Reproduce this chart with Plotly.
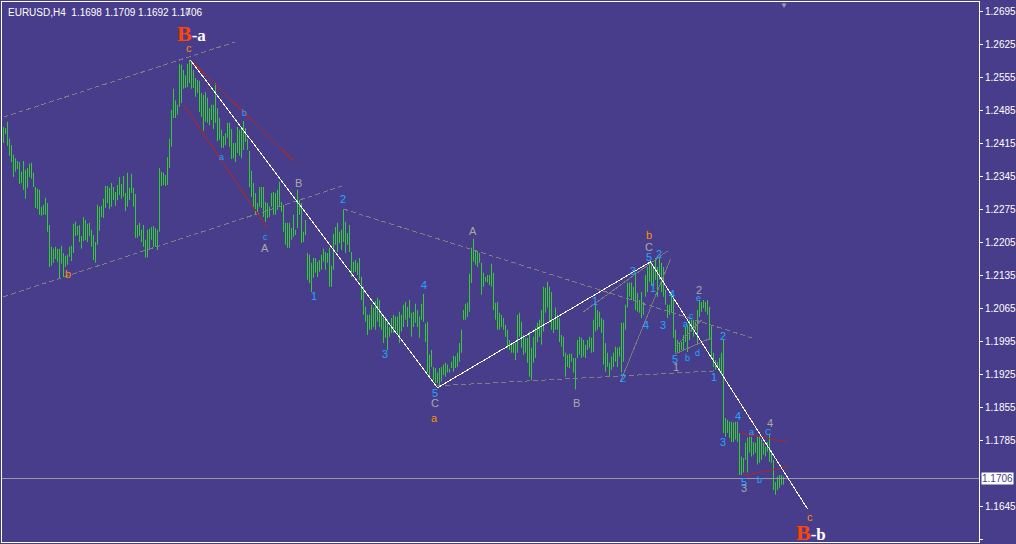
import plotly.graph_objects as go

# EURUSD H4 bars, oldest first (one value per bar)
high = [
    1.2451, 1.2449, 1.2462, 1.2426, 1.2413, 1.2392, 1.2385, 1.2379, 1.2377, 1.2356,
    1.2379, 1.2360, 1.2364, 1.2373, 1.2375, 1.2354, 1.2324, 1.2320, 1.2318, 1.2282,
    1.2286, 1.2301, 1.2290, 1.2243, 1.2197, 1.2193, 1.2197, 1.2193, 1.2193, 1.2199,
    1.2184, 1.2178, 1.2180, 1.2197, 1.2199, 1.2246, 1.2250, 1.2241, 1.2243, 1.2220,
    1.2260, 1.2254, 1.2246, 1.2248, 1.2233, 1.2222, 1.2207, 1.2286, 1.2282, 1.2284,
    1.2299, 1.2326, 1.2326, 1.2322, 1.2332, 1.2324, 1.2313, 1.2328, 1.2345, 1.2330,
    1.2347, 1.2311, 1.2354, 1.2322, 1.2352, 1.2322, 1.2309, 1.2243, 1.2248, 1.2233,
    1.2243, 1.2212, 1.2233, 1.2235, 1.2239, 1.2241, 1.2237, 1.2233, 1.2364, 1.2356,
    1.2354, 1.2349, 1.2387, 1.2426, 1.2487, 1.2532, 1.2508, 1.2498, 1.2585, 1.2583,
    1.2572, 1.2561, 1.2585, 1.2593, 1.2589, 1.2572, 1.2555, 1.2551, 1.2549, 1.2523,
    1.2519, 1.2525, 1.2513, 1.2491, 1.2498, 1.2498, 1.2544, 1.2491, 1.2470, 1.2445,
    1.2432, 1.2438, 1.2460, 1.2460, 1.2447, 1.2417, 1.2417, 1.2451, 1.2445, 1.2449,
    1.2464, 1.2449, 1.2426, 1.2400, 1.2358, 1.2332, 1.2311, 1.2290, 1.2324, 1.2324,
    1.2324, 1.2292, 1.2290, 1.2282, 1.2311, 1.2313, 1.2311, 1.2318, 1.2335, 1.2292,
    1.2286, 1.2248, 1.2248, 1.2248, 1.2237, 1.2265, 1.2233, 1.2318, 1.2296, 1.2290,
    1.2229, 1.2254, 1.2184, 1.2180, 1.2163, 1.2173, 1.2173, 1.2165, 1.2169, 1.2180,
    1.2193, 1.2186, 1.2184, 1.2195, 1.2157, 1.2224, 1.2239, 1.2248, 1.2229, 1.2233,
    1.2277, 1.2250, 1.2226, 1.2243, 1.2186, 1.2165, 1.2169, 1.2163, 1.2173, 1.2133,
    1.2112, 1.2070, 1.2053, 1.2053, 1.2074, 1.2068, 1.2082, 1.2089, 1.2084, 1.2057,
    1.2053, 1.2049, 1.2042, 1.2027, 1.2046, 1.2053, 1.2049, 1.2049, 1.2059, 1.2053,
    1.2074, 1.2080, 1.2070, 1.2084, 1.2057, 1.2059, 1.2076, 1.2063, 1.2049, 1.2076,
    1.2097, 1.2034, 1.2038, 1.1968, 1.1978, 1.1942, 1.1940, 1.1930, 1.1940, 1.1942,
    1.1947, 1.1951, 1.1947, 1.1938, 1.1953, 1.1966, 1.1964, 1.1972, 1.1993, 1.2021,
    1.2063, 1.2076, 1.2078, 1.2140, 1.2195, 1.2214, 1.2190, 1.2186, 1.2184, 1.2163,
    1.2142, 1.2133, 1.2137, 1.2137, 1.2161, 1.2142, 1.2078, 1.2080, 1.2057, 1.2053,
    1.2046, 1.2031, 1.2021, 1.1999, 1.1993, 1.1995, 1.1993, 1.2053, 1.2057, 1.2038,
    1.2010, 1.2004, 1.2004, 1.2017, 1.1983, 1.2006, 1.2025, 1.2036, 1.2042, 1.2063,
    1.2112, 1.2110, 1.2123, 1.2112, 1.2101, 1.2042, 1.2068, 1.2053, 1.2046, 1.2010,
    1.2006, 1.1972, 1.1968, 1.1970, 1.1970, 1.1961, 1.1961, 1.1999, 1.2006, 1.2004,
    1.1999, 1.1989, 1.1999, 1.2006, 1.2004, 1.2042, 1.2080, 1.2063, 1.2059, 1.2046,
    1.2042, 1.1993, 1.1972, 1.1951, 1.1964, 1.1972, 1.1985, 1.1983, 1.1985, 1.2036,
    1.2036, 1.2074, 1.2121, 1.2121, 1.2121, 1.2112, 1.2142, 1.2099, 1.2084, 1.2101,
    1.2080, 1.2137, 1.2154, 1.2163, 1.2165, 1.2152, 1.2173, 1.2154, 1.2173, 1.2163,
    1.2154, 1.2106, 1.2074, 1.2074, 1.2099, 1.2095, 1.2021, 1.1999, 1.1995, 1.1995,
    1.2010, 1.2027, 1.2031, 1.2042, 1.2042, 1.2042, 1.2038, 1.2063, 1.2084, 1.2080,
    1.2084, 1.2080, 1.2084, 1.2070, 1.2031, 1.1972, 1.1957, 1.1953, 1.1961, 1.1972,
    1.1999, 1.1834, 1.1830, 1.1826, 1.1826, 1.1824, 1.1826, 1.1826, 1.1802, 1.1752,
    1.1749, 1.1781, 1.1792, 1.1794, 1.1794, 1.1783, 1.1781, 1.1794, 1.1794, 1.1788,
    1.1781, 1.1773, 1.1783, 1.1798, 1.1766, 1.1745, 1.1698, 1.1709, 1.1713, 1.1713, 1.1709,
]
low = [
    1.2417, 1.2436, 1.2411, 1.2390, 1.2377, 1.2345, 1.2356, 1.2362, 1.2330, 1.2332,
    1.2318, 1.2299, 1.2322, 1.2345, 1.2341, 1.2324, 1.2279, 1.2277, 1.2265, 1.2263,
    1.2265, 1.2265, 1.2229, 1.2154, 1.2157, 1.2163, 1.2171, 1.2165, 1.2129, 1.2161,
    1.2133, 1.2154, 1.2159, 1.2176, 1.2167, 1.2184, 1.2220, 1.2222, 1.2207, 1.2193,
    1.2209, 1.2211, 1.2207, 1.2220, 1.2197, 1.2169, 1.2163, 1.2201, 1.2231, 1.2260,
    1.2258, 1.2279, 1.2290, 1.2277, 1.2282, 1.2296, 1.2284, 1.2296, 1.2307, 1.2299,
    1.2303, 1.2273, 1.2282, 1.2296, 1.2311, 1.2282, 1.2216, 1.2216, 1.2220, 1.2207,
    1.2197, 1.2174, 1.2174, 1.2190, 1.2212, 1.2197, 1.2197, 1.2190, 1.2229, 1.2326,
    1.2328, 1.2326, 1.2328, 1.2364, 1.2409, 1.2470, 1.2470, 1.2477, 1.2494, 1.2502,
    1.2532, 1.2534, 1.2536, 1.2544, 1.2532, 1.2534, 1.2515, 1.2523, 1.2483, 1.2472,
    1.2443, 1.2462, 1.2460, 1.2455, 1.2466, 1.2447, 1.2460, 1.2421, 1.2424, 1.2407,
    1.2407, 1.2413, 1.2428, 1.2409, 1.2383, 1.2385, 1.2377, 1.2396, 1.2390, 1.2385,
    1.2402, 1.2419, 1.2402, 1.2324, 1.2303, 1.2282, 1.2265, 1.2269, 1.2282, 1.2279,
    1.2260, 1.2250, 1.2258, 1.2260, 1.2282, 1.2265, 1.2265, 1.2275, 1.2282, 1.2271,
    1.2229, 1.2201, 1.2195, 1.2195, 1.2212, 1.2218, 1.2222, 1.2237, 1.2265, 1.2205,
    1.2207, 1.2222, 1.2127, 1.2120, 1.2101, 1.2131, 1.2142, 1.2133, 1.2144, 1.2148,
    1.2165, 1.2148, 1.2163, 1.2112, 1.2112, 1.2148, 1.2201, 1.2186, 1.2205, 1.2190,
    1.2207, 1.2184, 1.2201, 1.2186, 1.2133, 1.2142, 1.2144, 1.2137, 1.2127, 1.2084,
    1.2053, 1.2038, 1.2010, 1.2021, 1.2021, 1.2027, 1.2021, 1.2038, 1.2027, 1.2021,
    1.1993, 1.2004, 1.1978, 1.2006, 1.2014, 1.2014, 1.2021, 1.2010, 1.1993, 1.2017,
    1.2027, 1.2042, 1.2027, 1.2046, 1.2006, 1.2027, 1.2036, 1.2027, 1.2004, 1.2042,
    1.2038, 1.1995, 1.1930, 1.1919, 1.1942, 1.1914, 1.1908, 1.1908, 1.1900, 1.1911,
    1.1925, 1.1921, 1.1930, 1.1930, 1.1940, 1.1932, 1.1940, 1.1942, 1.1953, 1.1972,
    1.2042, 1.2042, 1.2048, 1.2059, 1.2120, 1.2165, 1.2159, 1.2154, 1.2163, 1.2095,
    1.2112, 1.2123, 1.2121, 1.2116, 1.2112, 1.2063, 1.2042, 1.2021, 1.2021, 1.2027,
    1.2021, 1.2006, 1.1983, 1.1978, 1.1972, 1.1972, 1.1957, 1.1972, 1.2006, 1.1983,
    1.1968, 1.1972, 1.1951, 1.1921, 1.1914, 1.1951, 1.1961, 1.1995, 1.2006, 1.1989,
    1.2017, 1.2057, 1.2068, 1.2038, 1.2021, 1.2014, 1.2021, 1.2021, 1.1995, 1.1985,
    1.1964, 1.1921, 1.1942, 1.1940, 1.1953, 1.1930, 1.1894, 1.1961, 1.1968, 1.1961,
    1.1964, 1.1961, 1.1978, 1.1983, 1.1972, 1.1974, 1.2017, 1.2021, 1.2027, 1.2014,
    1.1947, 1.1932, 1.1942, 1.1921, 1.1936, 1.1942, 1.1953, 1.1942, 1.1964, 1.1930,
    1.1953, 1.2021, 1.2068, 1.2091, 1.2084, 1.2084, 1.2063, 1.2059, 1.2057, 1.2046,
    1.2053, 1.2091, 1.2101, 1.2123, 1.2116, 1.2112, 1.2127, 1.2091, 1.2127, 1.2101,
    1.2091, 1.2074, 1.2046, 1.2053, 1.2057, 1.2004, 1.1972, 1.1972, 1.1974, 1.1978,
    1.1978, 1.1995, 1.1974, 1.1999, 1.2017, 1.2006, 1.2021, 1.1989, 1.2048, 1.2059,
    1.2067, 1.2059, 1.2053, 1.1999, 1.1961, 1.1942, 1.1936, 1.1940, 1.1932, 1.1925,
    1.1802, 1.1794, 1.1802, 1.1792, 1.1783, 1.1783, 1.1788, 1.1783, 1.1713, 1.1713,
    1.1718, 1.1745, 1.1718, 1.1760, 1.1752, 1.1756, 1.1760, 1.1735, 1.1739, 1.1745,
    1.1756, 1.1752, 1.1762, 1.1741, 1.1739, 1.1681, 1.1671, 1.1681, 1.1686, 1.1692, 1.1692,
]

tick_labels = ["1.2695", "1.2625", "1.2555", "1.2485", "1.2415", "1.2345", "1.2275",
               "1.2205", "1.2135", "1.2065", "1.1995", "1.1925", "1.1855", "1.1785",
               "1.1645", "1.1575"]
last_price = 1.1706
header = "EURUSD,H4  1.1698 1.1709 1.1692 1.1706"

# wave zigzag (bar index, price)
zigzag_bar = [93.5, 217, 323.5, 402]
zigzag_price = [1.2593, 1.1898, 1.2165, 1.1641]

# trend / channel lines: (bar0, bar1, price0, price1)
dashed_lines = [
    (0, 115.5, 1.2472, 1.2631),
    (0, 169.5, 1.2091, 1.2326),
    (170, 375.5, 1.2277, 1.2002),
    (217, 357, 1.1902, 1.1934),
]
thin_gray_lines = [
    (290, 332, 1.2059, 1.2188),
    (308.5, 333.5, 1.1911, 1.2171),
    (336, 349, 1.1985, 1.2042),
    (336, 354, 1.1970, 1.2004),
]
red_lines = [
    (93.5, 145, 1.2593, 1.2379),
    (90, 132, 1.2498, 1.2237),
    (368, 392, 1.1802, 1.1783),
    (370, 393, 1.1711, 1.1732),
]

# wave labels: (text, bar index, price)
orange_labels = [("c", 92.5, 1.2619), ("b", 32, 1.2139), ("a", 215.5, 1.1834),
                 ("b", 322.5, 1.2222), ("c", 403, 1.1624)]
gray_labels = [("B", 147.5, 1.2332), ("A", 130.5, 1.2195), ("A", 234.5, 1.2231),
               ("C", 215.5, 1.1866), ("B", 286.5, 1.1866), ("C", 322.5, 1.2197),
               ("1", 336, 1.1942), ("2", 347.5, 1.2106), ("4", 383, 1.1824),
               ("3", 370, 1.1686)]
top_label = ("a", 92, 1.2695)
cyan_digits = [("2", 169.5, 1.2299), ("1", 155, 1.2093), ("3", 190.5, 1.1970),
               ("4", 210, 1.2116), ("5", 215.5, 1.1887), ("1", 295.5, 1.2082),
               ("2", 309.5, 1.1919), ("3", 314.5, 1.2146), ("4", 321, 1.2031),
               ("5", 322.5, 1.2176), ("2", 327.5, 1.2182), ("1", 324.5, 1.2110),
               ("3", 329.5, 1.2031), ("4", 334, 1.2097), ("5", 335.5, 1.1959),
               ("2", 359.5, 1.2008), ("1", 355, 1.1921), ("3", 359.5, 1.1783),
               ("4", 367, 1.1838), ("5", 370, 1.1698)]
cyan_letters = [("b", 120.5, 1.2481), ("a", 109, 1.2388), ("c", 131, 1.2218),
                ("a", 341, 1.2034), ("c", 344, 1.2050), ("b", 342, 1.1961),
                ("d", 347, 1.1972), ("e", 347.5, 1.2089), ("a", 374, 1.1805),
                ("C", 382.5, 1.1805), ("b", 378, 1.1703)]
big_labels = [("a", 94, 1.2650), ("b", 403.5, 1.1590)]

BG = '#483d8b'
BAR = '#32cd32'
FONT = 'Arial, Liberation Sans, sans-serif'

fig = go.Figure()

# price bars: thin high-low columns (plotly snaps them to one pixel)
fig.add_trace(go.Bar(
    x=list(range(len(high))),
    y=[h - l for h, l in zip(high, low)],
    base=low,
    width=0.4,
    marker=dict(color=BAR, line=dict(width=0)),
    hoverinfo='skip'))

def add_segments(segs, color, dash='solid', width=1):
    for b0, b1, p0, p1 in segs:
        fig.add_trace(go.Scatter(x=[b0, b1], y=[p0, p1], mode='lines',
                                 line=dict(color=color, width=width, dash=dash),
                                 hoverinfo='skip'))

add_segments(dashed_lines, '#808080', dash='5px,3px')
add_segments(thin_gray_lines, '#7a7a7a')
add_segments(red_lines, '#a52a2a')

# bid line
fig.add_trace(go.Scatter(x=[-1, 490], y=[last_price, last_price], mode='lines',
                         line=dict(color='#9a9aa6', width=1), hoverinfo='skip'))

fig.add_trace(go.Scatter(x=zigzag_bar, y=zigzag_price, mode='lines',
                         line=dict(color='white', width=1), hoverinfo='skip'))

def add_labels(items, color, size):
    for t, b, p in items:
        fig.add_annotation(x=b, y=p, text=t, showarrow=False,
                           font=dict(color=color, size=size, family=FONT))

add_labels(orange_labels, '#ff8c00', 11)
add_labels(gray_labels, '#a9a9a9', 11)
add_labels(cyan_digits, '#1ea8ff', 11)
add_labels(cyan_letters, '#1ea8ff', 9)
add_labels([top_label], '#c8c8d0', 10)

for t, b, p in big_labels:
    fig.add_annotation(
        x=b, y=p, showarrow=False,
        text=f"<b><span style='color:#ff4500'>B</span>"
             f"<span style='color:white;font-size:17px'>-{t}</span></b>",
        font=dict(size=22, family='Liberation Serif, Times New Roman, serif'))

# header text and current price tag
fig.add_annotation(xref='paper', yref='paper', x=0, y=1, xanchor='left', yanchor='top',
                   xshift=4, yshift=-3, text=header, showarrow=False,
                   font=dict(color='white', size=10, family=FONT))
fig.add_annotation(xref='paper', x=1, y=last_price, xanchor='left', text=f"{last_price:.4f}",
                   showarrow=False, bgcolor='white', xshift=2, borderpad=0,
                   font=dict(color=BG, size=10, family=FONT))
fig.add_annotation(x=len(high) - 1, yref='paper', y=1, yanchor='top', yshift=5, text="▼",
                   showarrow=False, font=dict(color='#a0a0a0', size=8))

fig.update_layout(
    width=1016, height=544,
    margin=dict(l=2, r=37, t=2, b=2, autoexpand=False),
    paper_bgcolor=BG, plot_bgcolor=BG,
    showlegend=False,
    xaxis=dict(range=[-0.75, 487.75], showgrid=False, zeroline=False,
               showticklabels=False, showline=True, mirror=True,
               linecolor='white', linewidth=1, automargin=False),
    yaxis=dict(range=[1.15707, 1.27162], side='right', showgrid=False, zeroline=False,
               tickvals=[float(t) for t in tick_labels], ticktext=tick_labels,
               ticks='outside', ticklen=3, tickcolor='white',
               tickfont=dict(color='white', size=10, family=FONT),
               showline=True, mirror=True, linecolor='white', linewidth=1,
               automargin=False),
)

# page margin off, and pixel-crisp strokes like the terminal draws them
post = """
document.body.style.margin = '0';
function crisp() {
  document.querySelectorAll('.scatterlayer path.js-line').forEach(function (p) {
    p.style.shapeRendering = 'crispEdges';
  });
}
crisp(); setTimeout(crisp, 0); setTimeout(crisp, 300);
"""
fig.write_html("out.html", config={'displayModeBar': False}, post_script=post)
